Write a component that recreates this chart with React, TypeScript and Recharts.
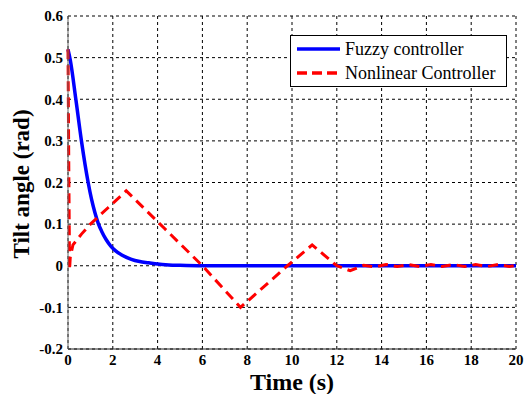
import { LineChart, Line, XAxis, YAxis, CartesianGrid } from 'recharts';

const xTicks = [0, 2, 4, 6, 8, 10, 12, 14, 16, 18, 20];
const yTicks = [-0.2, -0.1, 0, 0.1, 0.2, 0.3, 0.4, 0.5, 0.6];

const fuzzyTime = [0, 0.1, 0.35, 0.6, 0.9, 1.05, 1.2, 1.35, 1.5, 1.7, 1.9, 2.1, 2.4, 2.8, 3.2, 3.6, 4, 4.5, 5, 6, 8, 10, 12, 14, 16, 18, 20];
const fuzzyAngle = [0.52, 0.495, 0.4, 0.3, 0.2, 0.16, 0.128, 0.102, 0.083, 0.063, 0.048, 0.037, 0.026, 0.016, 0.01, 0.007, 0.004, 0.002, 0.001, 0, 0, 0, 0, 0, 0, 0, 0];

const nonlinearTime = [0, 0.04, 0.07, 0.1, 0.14, 0.22, 0.6, 1.0, 1.8, 2.6, 4.3, 6.0, 7.7, 9.8, 10.9, 12.0, 12.6, 13.2, 13.7, 14.2, 14.7, 15.2, 15.7, 16.2, 16.7, 17.2, 17.7, 18.2, 18.7, 19.2, 19.7, 20];
const nonlinearAngle = [0.52, 0.2, -0.01, 0.02, 0.03, 0.05, 0.076, 0.1, 0.14, 0.18, 0.09, 0, -0.1, 0, 0.05, 0, -0.012, 0.001, -0.003, 0.003, -0.002, 0.003, -0.002, 0.003, -0.002, 0.003, -0.002, 0.003, -0.002, 0.003, -0.002, 0.001];

const fuzzyData = fuzzyTime.map((t, i) => ({ t, angle: fuzzyAngle[i] }));
const nonlinearData = nonlinearTime.map((t, i) => ({ t, angle: nonlinearAngle[i] }));

const FONT = '"Liberation Serif", "Times New Roman", serif';
const labelStyle = { fontFamily: FONT, fontSize: 24, fontWeight: 'bold', fill: '#000' };

const fmt = (v: number) => (v === 0 ? '0' : String(Math.round(v * 10) / 10));

const XTick = ({ x, y, payload }: any) => (
  <text x={x} y={y} dy="0.71em" textAnchor="middle" fontFamily={FONT} fontSize={15} fontWeight="bold" fill="#000">
    {payload.value}
  </text>
);

const YTick = ({ x, y, payload }: any) => (
  <text x={x} y={y} dy="0.355em" textAnchor="end" fontFamily={FONT} fontSize={15} fontWeight="bold" fill="#000">
    {fmt(payload.value)}
  </text>
);

const legendItems = [
  { name: 'Fuzzy controller', color: '#0000ff', dash: undefined as string | undefined },
  { name: 'Nonlinear Controller', color: '#ff0000', dash: '10 5' },
];

export default function App() {
  return (
    <div style={{ position: 'absolute', left: 0, top: 0, width: 524, height: 394, background: '#fff' }}>
      <LineChart width={524} height={394} margin={{ top: 16, right: 8, left: 0, bottom: 0 }}>
        <CartesianGrid stroke="#000" strokeDasharray="3 3" strokeWidth={1} />
        <XAxis
          dataKey="t"
          type="number"
          domain={[0, 20]}
          ticks={xTicks}
          height={45}
          tickLine={false}
          tickSize={3}
          tick={<XTick />}
          stroke="#222"
          label={{ value: 'Time (s)', position: 'insideBottom', offset: 4, style: labelStyle }}
        />
        <XAxis xAxisId="top" orientation="top" type="number" domain={[0, 20]} height={0} tick={false} tickLine={false} stroke="#555" />
        <YAxis
          type="number"
          domain={[-0.2, 0.6]}
          ticks={yTicks}
          width={68}
          tickLine={false}
          tickSize={3}
          tick={<YTick />}
          stroke="#666"
          allowDataOverflow
          label={{ value: 'Tilt angle (rad)', angle: -90, position: 'insideLeft', offset: 21, dy: 76, style: { ...labelStyle, fontSize: 23 } }}
        />
        <YAxis yAxisId="right" orientation="right" width={0} tick={false} tickLine={false} stroke="#222" />
        <Line
          data={fuzzyData}
          dataKey="angle"
          type="monotone"
          stroke="#0000ff"
          strokeWidth={3.5}
          dot={false}
          isAnimationActive={false}
        />
        <Line
          data={nonlinearData}
          dataKey="angle"
          type="linear"
          stroke="#ff0000"
          strokeWidth={3}
          strokeDasharray="10 6"
          dot={false}
          isAnimationActive={false}
        />
      </LineChart>
      <div
        style={{
          position: 'absolute',
          left: 290,
          top: 35,
          width: 215,
          height: 50,
          border: '1px solid #000',
          background: '#fff',
          fontFamily: FONT,
          fontSize: 18,
          color: '#000',
        }}
      >
        {legendItems.map((item, i) => (
          <div key={item.name} style={{ position: 'absolute', left: 6, top: 3 + i * 24, height: 20, display: 'flex', alignItems: 'center', whiteSpace: 'nowrap' }}>
            <svg width={44} height={20} style={{ marginRight: 4 }}>
              <line x1={0} y1={10} x2={43} y2={10} stroke={item.color} strokeWidth={3.5} strokeDasharray={item.dash} />
            </svg>
            <span>{item.name}</span>
          </div>
        ))}
      </div>
    </div>
  );
}
